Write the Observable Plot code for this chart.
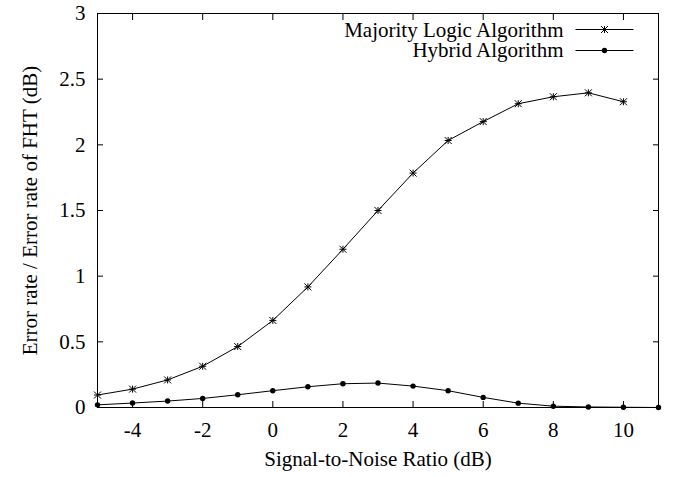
<!DOCTYPE html>
<html>
<head>
<meta charset="utf-8">
<script src="https://cdn.jsdelivr.net/npm/d3@7"></script>
<script src="https://cdn.jsdelivr.net/npm/@observablehq/plot@0.6"></script>
<style>
  html, body { margin: 0; padding: 0; background: #fff; }
</style>
</head>
<body>
<div id="chart"></div>
<script>
// ---- data ----
const snrMajority = [-5, -4, -3, -2, -1, 0, 1, 2, 3, 4, 5, 6, 7, 8, 9, 10];
const majority = [0.095, 0.14, 0.21, 0.314, 0.464, 0.663, 0.918, 1.205, 1.5, 1.785, 2.033, 2.177, 2.313, 2.366, 2.396, 2.328];
const snrHybrid = [-5, -4, -3, -2, -1, 0, 1, 2, 3, 4, 5, 6, 7, 8, 9, 10, 11];
const hybrid = [0.02, 0.034, 0.049, 0.069, 0.097, 0.128, 0.158, 0.181, 0.186, 0.163, 0.128, 0.077, 0.033, 0.01, 0.004, 0.002, 0.0];
const xTicks = [-4, -2, 0, 2, 4, 6, 8, 10];
const yTicks = [0, 0.5, 1, 1.5, 2, 2.5, 3];
const seriesNames = ["Majority Logic Algorithm", "Hybrid Algorithm"];
const xLabel = "Signal-to-Noise Ratio (dB)";
const yLabel = "Error rate / Error rate of FHT (dB)";

const majData = snrMajority.map((x, i) => ({x, y: majority[i]}));
const hybData = snrHybrid.map((x, i) => ({x, y: hybrid[i]}));

// gnuplot-style 8-armed asterisk
const star = {
  draw(ctx, size) {
    const r = Math.sqrt(size / Math.PI);
    ctx.moveTo(-r, 0); ctx.lineTo(r, 0);
    ctx.moveTo(0, -r); ctx.lineTo(0, r);
    ctx.moveTo(-r, -r); ctx.lineTo(r, r);
    ctx.moveTo(-r, r); ctx.lineTo(r, -r);
  }
};
// horizontal legend sample line
const sampleLine = {
  draw(ctx) { ctx.moveTo(-29, 0); ctx.lineTo(29, 0); }
};

const fmt = d => String(d);

const chart = Plot.plot({
  width: 675,
  height: 477,
  marginLeft: 97,
  marginRight: 17,
  marginTop: 13,
  marginBottom: 70,
  style: { fontFamily: "'Liberation Serif', 'Times New Roman', serif", fontSize: "21px", color: "black", background: "white" },
  x: { domain: [-5, 11] },
  y: { domain: [0, 3] },
  marks: [
    Plot.frame({ stroke: "black", strokeWidth: 1 }),
    // tick labels
    Plot.axisX(xTicks, { anchor: "bottom", tickSize: 0, tickPadding: 15, tickFormat: fmt, label: null, fontSize: 21 }),
    Plot.axisY(yTicks, { anchor: "left", tickSize: 0, tickPadding: 12, tickFormat: fmt, label: null, fontSize: 21 }),
    // inward ticks on all four sides
    Plot.axisX(xTicks, { anchor: "bottom", tickSize: -6, tickFormat: () => "", label: null }),
    Plot.axisX(xTicks, { anchor: "top", tickSize: -6, tickFormat: () => "", label: null }),
    Plot.axisY(yTicks, { anchor: "left", tickSize: -6, tickFormat: () => "", label: null }),
    Plot.axisY(yTicks, { anchor: "right", tickSize: -6, tickFormat: () => "", label: null }),
    // axis titles
    Plot.text([xLabel], { frameAnchor: "bottom", text: d => d, dy: 51.6, textAnchor: "middle", lineAnchor: "middle", fontSize: 21 }),
    Plot.text([yLabel], { frameAnchor: "left", text: d => d, rotate: -90, dx: -67, textAnchor: "middle", lineAnchor: "middle", fontSize: 21 }),
    // series
    Plot.line(majData, { x: "x", y: "y", stroke: "black", strokeWidth: 1 }),
    Plot.dot(majData, { x: "x", y: "y", symbol: star, r: 3.5, fill: "none", stroke: "black", strokeWidth: 1 }),
    Plot.line(hybData, { x: "x", y: "y", stroke: "black", strokeWidth: 1 }),
    Plot.dot(hybData, { x: "x", y: "y", symbol: "circle", r: 2.7, fill: "black", stroke: "none" }),
    // legend
    Plot.text([seriesNames[0]], { frameAnchor: "top-right", text: d => d, dx: -95, dy: 16.3, textAnchor: "end", lineAnchor: "middle", fontSize: 21 }),
    Plot.text([seriesNames[1]], { frameAnchor: "top-right", text: d => d, dx: -95, dy: 37, textAnchor: "end", lineAnchor: "middle", fontSize: 21 }),
    Plot.dot([seriesNames[0]], { frameAnchor: "top-right", dx: -54, dy: 16, symbol: sampleLine, fill: "none", stroke: "black", strokeWidth: 1 }),
    Plot.dot([seriesNames[0]], { frameAnchor: "top-right", dx: -54, dy: 16, symbol: star, r: 3.5, fill: "none", stroke: "black", strokeWidth: 1 }),
    Plot.dot([seriesNames[1]], { frameAnchor: "top-right", dx: -54, dy: 37, symbol: sampleLine, fill: "none", stroke: "black", strokeWidth: 1 }),
    Plot.dot([seriesNames[1]], { frameAnchor: "top-right", dx: -54, dy: 37, symbol: "circle", r: 2.7, fill: "black", stroke: "none" })
  ]
});
document.getElementById("chart").appendChild(chart);
</script>
</body>
</html>
